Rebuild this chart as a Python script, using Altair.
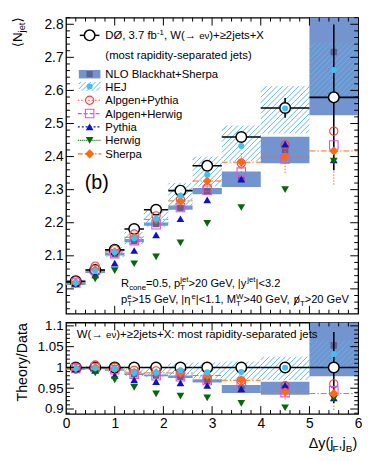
import math
import numpy as np
import pandas as pd
import altair as alt

# ---------------- data ----------------
bin_lo = [0.0, 0.4, 0.8, 1.2, 1.6, 2.1, 2.6, 3.2, 4.0, 5.0]
bin_hi = [0.4, 0.8, 1.2, 1.6, 2.1, 2.6, 3.2, 4.0, 5.0, 6.0]
bin_c = [0.2, 0.6, 1.0, 1.4, 1.85, 2.35, 2.9, 3.6, 4.5, 5.5]

d0_val = [2.023, 2.057, 2.118, 2.181, 2.239, 2.297, 2.372, 2.459, 2.547, 2.579]
d0_err = [0.003, 0.004, 0.005, 0.006, 0.007, 0.008, 0.009, 0.012, 0.030, 0.220]

nlo_lo = [2.012, 2.048, 2.101, 2.141, 2.191, 2.239, 2.286, 2.308, 2.380, 2.525]
nlo_hi = [2.021, 2.058, 2.109, 2.151, 2.201, 2.252, 2.305, 2.355, 2.460, 2.950]
nlo_c = [2.017, 2.053, 2.105, 2.146, 2.196, 2.245, 2.296, 2.332, 2.420, 2.716]

hej_lo = [2.012, 2.045, 2.096, 2.135, 2.187, 2.245, 2.310, 2.386, 2.470, 2.575]
hej_hi = [2.026, 2.062, 2.126, 2.172, 2.237, 2.320, 2.400, 2.494, 2.613, 2.745]
hej_c = [2.019, 2.054, 2.111, 2.153, 2.212, 2.282, 2.345, 2.432, 2.545, 2.662]

alp_pyt = [2.024, 2.069, 2.119, 2.166, 2.221, 2.270, 2.306, 2.380, 2.435, 2.477]
alp_her = [2.018, 2.057, 2.106, 2.146, 2.194, 2.246, 2.298, 2.353, 2.393, 2.435]
pythia = [2.016, 2.042, 2.078, 2.116, 2.163, 2.212, 2.269, 2.332, 2.438, 2.390]
herwig = [2.013, 2.030, 2.055, 2.076, 2.097, 2.139, 2.198, 2.246, 2.300, 2.386]
sherpa = [2.019, 2.058, 2.112, 2.156, 2.210, 2.266, 2.326, 2.383, 2.398, 2.417]
sherpa_lo = [2.015, 2.053, 2.104, 2.146, 2.198, 2.248, 2.306, 2.352, 2.350, 2.315]
sherpa_hi = [2.023, 2.063, 2.120, 2.166, 2.222, 2.284, 2.346, 2.412, 2.440, 2.460]

top_y_labels = [2.0, 2.1, 2.2, 2.3, 2.4, 2.5, 2.6, 2.7, 2.8]
bot_y_labels = [0.9, 0.95, 1.0, 1.05, 1.1]
x_labels = [0, 1, 2, 3, 4, 5, 6]

# ---------------- layout / style ----------------
W, HT, HB = 297, 301, 93
XDOM = [0, 6]
TOPDOM = [1.925, 2.82]
BOTDOM = [0.888, 1.108]
FONT = "Liberation Sans, DejaVu Sans"

C_NLO = "#7494d0"
C_NLOC = "#5e6290"
C_HEJH = "#5ab8e6"
C_HEJ = "#3fc2f2"
C_APY = "#ff3c3c"
C_AHW = "#d755d7"
C_PYT = "#0a14c4"
C_HER = "#066806"
C_SHE = "#ff6a10"

HW = {' ': 278, '.': 278, ',': 278, '=': 584, '>': 584, '<': 584, '|': 260, '(': 333, ')': 333,
      '+': 584, '-': 333, ':': 278, '/': 278, '≥': 549, '→': 1000, 'Ø': 778, 'ν': 500, 'η': 556,
      'Δ': 612, '⟨': 390, '⟩': 390, '⁻': 333,
      'A': 667, 'B': 667, 'C': 722, 'D': 722, 'E': 667, 'F': 611, 'G': 778, 'H': 722, 'J': 500,
      'L': 556, 'M': 833, 'N': 722, 'O': 778, 'P': 667, 'R': 722, 'S': 667, 'T': 611, 'V': 667,
      'W': 944, 'X': 667, 'Y': 667,
      'a': 556, 'b': 556, 'c': 500, 'd': 556, 'e': 556, 'f': 278, 'g': 556, 'h': 556, 'i': 222,
      'j': 222, 'k': 500, 'l': 222, 'm': 833, 'n': 556, 'o': 556, 'p': 556, 'q': 556, 'r': 333,
      's': 500, 't': 278, 'u': 556, 'v': 500, 'w': 722, 'x': 500, 'y': 500, 'z': 500}


def tw(s, fs):
    return sum(HW.get(ch, 556) for ch in s) * fs / 1000.0


ONE = pd.DataFrame({"a": [0]})


def txt(s, x, y, fs, angle=0, align="left", baseline="alphabetic", color="black"):
    return alt.Chart(ONE).mark_text(text=s, font=FONT, fontSize=fs, align=align, baseline=baseline,
                                    angle=angle, color=color).encode(x=alt.value(x), y=alt.value(y))


def seg(x0, y0, x1, y1, color="black", width=1.0, dash=None):
    kw = dict(color=color, strokeWidth=width)
    if dash:
        kw["strokeDash"] = dash
    return alt.Chart(ONE).mark_rule(**kw).encode(
        x=alt.value(x0), y=alt.value(y0), x2=alt.value(x1), y2=alt.value(y1))


def rich(parts, x, y, fs, angle=0):
    th = math.radians(angle)
    dx, dy = math.cos(th), math.sin(th)
    nx, ny = -math.sin(th), math.cos(th)
    out = []
    pos = 0.0
    f2 = fs * 0.7

    def put(s, off, size):
        px = x + dx * pos + nx * off
        py = y + dy * pos + ny * off
        out.append(txt(s, px, py, size, angle=angle))

    for s, kind in parts:
        if kind == "n":
            put(s, 0, fs)
            pos += tw(s, fs)
        elif kind == "small":
            put(s, 0, fs * 0.85)
            pos += tw(s, fs * 0.85)
        elif kind == "sub":
            put(s, 0.28 * fs, f2)
            pos += tw(s, f2)
        elif kind == "sup":
            put(s, -0.42 * fs, f2)
            pos += tw(s, f2)
        elif kind == "subsup":
            a, b = s
            put(a, 0.28 * fs, f2)
            put(b, -0.42 * fs, f2)
            pos += max(tw(a, f2), tw(b, f2))
        elif kind == "slash":
            put(s, 0, fs)
            out.append(seg(x + pos + 0.02 * fs, y + 0.2 * fs, x + pos + 0.5 * fs, y - 0.72 * fs, width=0.9))
            pos += tw(s, fs)
    return out, pos


def hatch_rows(xlo, xhi, ylo, yhi, dom, H, step=5.5):
    sx = W / (XDOM[1] - XDOM[0])
    sy = H / (dom[1] - dom[0])
    rows = []
    for x0, x1, y0, y1 in zip(xlo, xhi, ylo, yhi):
        y0 = max(y0, dom[0])
        y1 = min(y1, dom[1])
        if y1 <= y0:
            continue
        px0, px1 = x0 * sx, x1 * sx
        py0, py1 = (y0 - dom[0]) * sy, (y1 - dom[0]) * sy
        kmin = math.ceil((py0 - px1) / step)
        kmax = math.floor((py1 - px0) / step)
        for k in range(kmin, kmax + 1):
            c = k * step
            a = max(px0, py0 - c)
            b = min(px1, py1 - c)
            if b - a > 0.3:
                rows.append({"hx": a / sx, "hy": (a + c) / sy + dom[0],
                             "hx2": b / sx, "hy2": (b + c) / sy + dom[0]})
    return pd.DataFrame(rows)


def panel(ratio):
    H = HB if ratio else HT
    dom = BOTDOM if ratio else TOPDOM
    norm = [v if ratio else 1.0 for v in d0_val]

    def r(arr):
        return [a / n for a, n in zip(arr, norm)]

    df = pd.DataFrame({
        "lo": bin_lo, "hi": bin_hi, "c": bin_c,
        "d": r(d0_val),
        "dlo": r([v - e for v, e in zip(d0_val, d0_err)]),
        "dhi": r([v + e for v, e in zip(d0_val, d0_err)]),
        "nlo": r(nlo_lo), "nhi": r(nlo_hi), "nc": r(nlo_c),
        "hc": r(hej_c),
        "apy": r(alp_pyt), "ahw": r(alp_her), "pyt": r(pythia), "her": r(herwig),
        "she": r(sherpa), "slo": r(sherpa_lo), "shi": r(sherpa_hi),
    })
    hdf = hatch_rows(bin_lo, bin_hi, r(hej_lo), r(hej_hi), dom, H)

    if ratio:
        yaxis = alt.Axis(values=bot_y_labels, format="~g", title=None, labelFontSize=13.5, labelFlush=False)
        xaxis = alt.Axis(values=x_labels, format="d", title=None, labelFontSize=14, labelPadding=3,
                         labelFlush=False)
    else:
        yaxis = alt.Axis(values=top_y_labels, format="~g", title=None, labelFontSize=14, labelFlush=False)
        xaxis = None
    ysc = alt.Scale(domain=dom, nice=False, zero=False)
    xsc = alt.Scale(domain=XDOM, nice=False, zero=False)

    def X(f):
        return alt.X(f, type="quantitative", scale=xsc, axis=xaxis)

    def Y(f):
        return alt.Y(f, type="quantitative", scale=ysc, axis=yaxis)

    base = alt.Chart(df)
    L = []
    L.append(base.mark_rect(color=C_NLO, clip=True).encode(x=X("lo"), x2="hi", y=Y("nlo"), y2="nhi"))
    L.append(alt.Chart(hdf).mark_rule(color=C_HEJH, strokeWidth=1, clip=True).encode(
        x=X("hx"), y=Y("hy"), x2="hx2", y2="hy2"))
    L.append(base.mark_point(shape="square", filled=True, color=C_NLOC, size=45, opacity=1, clip=True).encode(
        x=X("c"), y=Y("nc")))
    L.append(base.mark_rule(color=C_SHE, strokeWidth=1, strokeDash=[6, 2, 1.5, 2], clip=True).encode(
        x=X("lo"), x2="hi", y=Y("she")))
    L.append(base.mark_rule(color=C_SHE, strokeWidth=1, strokeDash=[1.5, 1.5], clip=True).encode(
        x=X("c"), y=Y("slo"), y2="shi"))
    # data
    L.append(base.mark_rule(color="black", strokeWidth=1.6, clip=True).encode(x=X("lo"), x2="hi", y=Y("d")))
    L.append(base.mark_rule(color="black", strokeWidth=1.6, clip=True).encode(x=X("c"), y=Y("dlo"), y2="dhi"))
    L.append(base.mark_point(shape="circle", filled=True, fill="white", stroke="black", strokeWidth=1.5,
                             size=115, opacity=1, clip=True).encode(x=X("c"), y=Y("d")))
    # models
    L.append(base.mark_point(shape="circle", filled=False, color=C_APY, strokeWidth=1.1, size=70, opacity=1,
                             clip=True).encode(x=X("c"), y=Y("apy")))
    L.append(base.mark_point(shape="square", filled=False, color=C_AHW, strokeWidth=1.1, size=75, opacity=1,
                             clip=True).encode(x=X("c"), y=Y("ahw")))
    L.append(base.mark_point(shape="triangle-up", filled=True, color=C_PYT, size=62, opacity=1,
                             clip=True).encode(x=X("c"), y=Y("pyt")))
    L.append(base.mark_point(shape="triangle-down", filled=True, color=C_HER, size=62, opacity=1,
                             clip=True).encode(x=X("c"), y=Y("her")))
    L.append(base.mark_point(shape="diamond", filled=True, color=C_SHE, size=85, opacity=1,
                             clip=True).encode(x=X("c"), y=Y("she")))
    L.append(base.mark_circle(color=C_HEJ, size=38, opacity=1, clip=True).encode(x=X("c"), y=Y("hc")))

    # inward ticks
    if ratio:
        ymaj = bot_y_labels
        ymin_t = [v for v in np.round(np.arange(0.89, 1.1001, 0.01), 2) if v not in [0.9, 0.95, 1.0, 1.05, 1.1]]
    else:
        ymaj = top_y_labels
        ymin_t = [v for v in np.round(np.arange(1.94, 2.8201, 0.02), 2)
                  if round(v * 10, 6) != round(v * 10)]
    xmaj = [1, 2, 3, 4, 5]
    xmin_t = [v for v in np.round(np.arange(0.2, 6.0, 0.2), 1) if abs(v - round(v)) > 1e-6]
    for vals, ln in ((ymaj, 8), (ymin_t, 4)):
        tdf = pd.DataFrame({"t": vals})
        L.append(alt.Chart(tdf).mark_rule(color="black", strokeWidth=1).encode(
            y=Y("t"), x=alt.value(0), x2=alt.value(ln)))
        L.append(alt.Chart(tdf).mark_rule(color="black", strokeWidth=1).encode(
            y=Y("t"), x=alt.value(W - ln), x2=alt.value(W)))
    for vals, ln in ((xmaj, 8), (xmin_t, 4)):
        tdf = pd.DataFrame({"t": vals})
        L.append(alt.Chart(tdf).mark_rule(color="black", strokeWidth=1).encode(
            x=X("t"), y=alt.value(0), y2=alt.value(ln)))
        L.append(alt.Chart(tdf).mark_rule(color="black", strokeWidth=1).encode(
            x=X("t"), y=alt.value(H - ln), y2=alt.value(H)))

    if not ratio:
        # y title
        t, _ = rich([("⟨", "n"), ("N", "n"), ("jet", "sub"), ("⟩", "n")], -45, 30, 13.5, angle=270)
        L += t
        # (b)
        L.append(txt("(b)", 19, 174, 20))
        # cuts
        fs = 11.3
        t, _ = rich([("R", "n"), ("cone", "sub"), ("=0.5, p", "n"), (("T", "jet"), "subsup"),
                     (">20 GeV, |y", "n"), ("jet", "sup"), ("|<3.2", "n")], 56, 273.8, fs)
        L += t
        t, _ = rich([("p", "n"), (("T", "e"), "subsup"), (">15 GeV, |η", "n"), ("e", "sup"),
                     ("|<1.1, M", "n"), (("T", "W"), "subsup"), (">40 GeV, ", "n"), ("p", "slash"),
                     ("T", "sub"), (">20 GeV", "n")], 56, 290.5, fs)
        L += t
        # legend
        lf = 11.5
        rows = [18, 38, 57.5, 70, 84, 97.5, 111, 124.7, 138.5]
        tx = 40
        sx0, sx1, scx = 14, 34, 24
        bo = 0.36 * lf
        # row 1 data
        L.append(seg(sx0, rows[0], sx1, rows[0], width=1.5))
        L.append(alt.Chart(ONE).mark_point(shape="circle", filled=True, fill="white", stroke="black",
                                           strokeWidth=1.5, size=115, opacity=1).encode(
            x=alt.value(scx), y=alt.value(rows[0])))
        t, _ = rich([("DØ, 3.7 fb", "n"), ("-1", "sup"), (", W(→ ", "n"), ("eν", "small"),
                     (")+≥2jets+X", "n")], tx, rows[0] + bo, lf)
        L += t
        L.append(txt("(most rapidity-separated jets)", tx, rows[1] + bo, lf))
        # NLO
        L.append(alt.Chart(ONE).mark_rect(color=C_NLO).encode(
            x=alt.value(13), x2=alt.value(35), y=alt.value(rows[2] - 4.3), y2=alt.value(rows[2] + 4.3)))
        L.append(alt.Chart(ONE).mark_point(shape="square", filled=True, color=C_NLOC, size=40, opacity=1).encode(
            x=alt.value(scx), y=alt.value(rows[2])))
        L.append(txt("NLO Blackhat+Sherpa", tx, rows[2] + bo, lf))
        # HEJ hatched legend box
        bx0, bx1, by0, by1 = 13, 35, rows[3] - 4.5, rows[3] + 4.5
        c = bx0 + by0 + 2
        while c < bx1 + by1:
            a = max(bx0, c - by1)
            b = min(bx1, c - by0)
            if b - a > 0.5:
                L.append(seg(a, c - a, b, c - b, color=C_HEJH))
            c += 5.0
        L.append(alt.Chart(ONE).mark_circle(color=C_HEJ, size=38, opacity=1).encode(
            x=alt.value(scx), y=alt.value(rows[3])))
        L.append(txt("HEJ", tx, rows[3] + bo, lf))
        items = [
            ("Alpgen+Pythia", C_APY, [1.5, 2], "circle", False, 70),
            ("Alpgen+Herwig", C_AHW, [4, 2], "square", False, 75),
            ("Pythia", C_PYT, [2, 2], "triangle-up", True, 62),
            ("Herwig", C_HER, [1, 1], "triangle-down", True, 62),
            ("Sherpa", C_SHE, [5, 2, 1.5, 2], "diamond", True, 85),
        ]
        for i, (lab, col, dash, shp, fil, sz) in enumerate(items):
            yy = rows[4 + i]
            L.append(seg(sx0 - 2, yy, sx1 + 2, yy, color=col, width=1.2, dash=dash))
            L.append(alt.Chart(ONE).mark_point(shape=shp, filled=fil, color=col, size=sz, opacity=1,
                                               strokeWidth=1.1).encode(x=alt.value(scx), y=alt.value(yy)))
            L.append(txt(lab, tx, yy + bo, lf))
    else:
        t, _ = rich([("W(→ ", "n"), ("eν", "small"), (")+≥2jets+X: most rapidity-separated jets", "n")],
                    11, 15.5, 11.6)
        L += t
        L.append(txt("Theory/Data", -40, 40.5, 14.5, angle=270, align="center"))
        parts = [("Δy(j", "n"), ("F", "sub"), (",j", "n"), ("B", "sub"), (")", "n")]
        _, width = rich(parts, 0, 0, 14.5)
        t, _ = rich(parts, 296 - width, 127.3, 14.5)
        L += t

    return alt.layer(*L).properties(width=W, height=H)


top = panel(False)
bot = panel(True)

chart = alt.vconcat(top, bot, spacing=9, bounds="flush").properties(
    padding={"left": 2, "top": 4, "right": 3, "bottom": 4}
).configure_view(
    stroke="black", strokeWidth=1.3
).configure_axis(
    labelFont=FONT, labelColor="black", ticks=False, domain=False, grid=False, labelPadding=3
)

chart.save("out.html", embed_options={"renderer": "svg", "actions": False})
